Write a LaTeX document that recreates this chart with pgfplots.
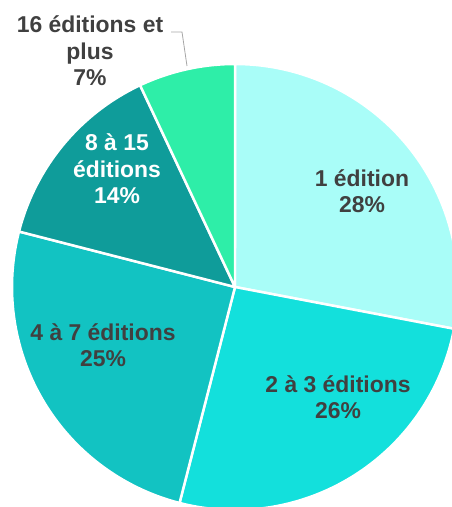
\documentclass[border=0pt]{standalone}
\usepackage{pgfplots}
\pgfplotsset{compat=1.18}
\usepackage{fontspec}
\setmainfont{Liberation Sans}
\definecolor{s1}{HTML}{A9FDF8}
\definecolor{s2}{HTML}{13E0DC}
\definecolor{s3}{HTML}{12C3C2}
\definecolor{s4}{HTML}{0F9C9A}
\definecolor{s5}{HTML}{2EEEA8}
\definecolor{txt}{HTML}{404040}
\definecolor{leader}{HTML}{A6A6A6}

\tikzset{lbl/.style={font=\fontsize{23}{26.5}\selectfont\bfseries, align=center, inner sep=0pt}}

% pie centre (235,220) in pixel units, radius 223, start at 12 o'clock, clockwise
% #1 = cumulative percent before the slice, #2 = percent, #3 = colour
\newcommand{\pieslice}[3]{%
  \addplot[fill=#3, draw=white, line width=2.5pt, line join=round,
    domain=90-3.6*(#1+#2):90-3.6*#1, samples=120, variable=\t]
    ({235+223*cos(\t)}, {220+223*sin(\t)}) -- (axis cs:235,220) -- cycle;
}

\begin{document}
\begin{tikzpicture}
\path[use as bounding box] (0,0) rectangle (452bp,507bp);
\begin{axis}[
  at={(0,0)}, anchor=south west,
  scale only axis, width=452bp, height=507bp,
  xmin=0, xmax=452, ymin=0, ymax=507,
  hide axis, clip=true,
]
% values: 28, 26, 25, 14, 7 (percent)
\pieslice{0}{28}{s1}
\pieslice{28}{26}{s2}
\pieslice{54}{25}{s3}
\pieslice{79}{14}{s4}
\pieslice{93}{7}{s5}

\addplot[leader, line width=0.8pt] coordinates {(171,475) (182,475) (187,441)};

\node[lbl, text=txt] at (axis cs:362,316) {1 édition\\28\%};
\node[lbl, text=txt] at (axis cs:338,110) {2 à 3 éditions\\26\%};
\node[lbl, text=txt] at (axis cs:103,162) {4 à 7 éditions\\25\%};
\node[lbl, text=white] at (axis cs:117,338) {8 à 15\\éditions\\14\%};
\node[lbl, text=txt] at (axis cs:90,456) {16 éditions et\\plus\\7\%};
\end{axis}
\end{tikzpicture}
\end{document}
